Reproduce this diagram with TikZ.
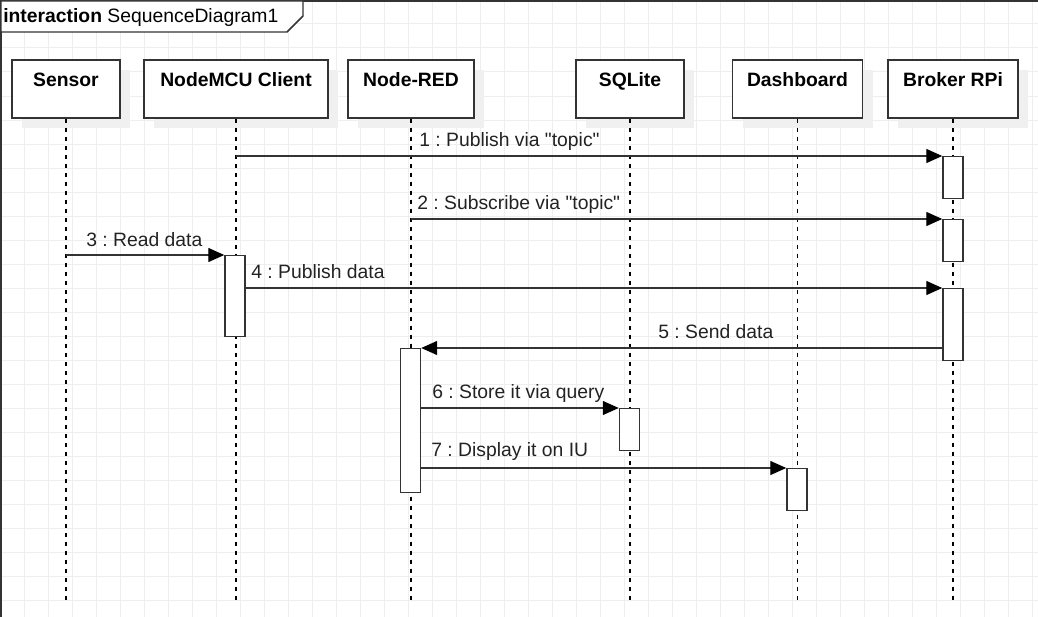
\documentclass[tikz,border=0pt]{standalone}
\usepackage{fontspec}
\setmainfont{Liberation Sans}[Ligatures=TeXOff]
\usetikzlibrary{arrows.meta}
\definecolor{gridc}{HTML}{EEEEEE}
\definecolor{shadowc}{HTML}{F0F0F0}
\definecolor{linec}{HTML}{333333}
\definecolor{textc}{HTML}{222222}
\begin{document}
\frenchspacing
\begin{tikzpicture}[x=0.75pt,y=-0.75pt,
  lifebox/.style={draw=linec, line width=1.1pt, fill=white, minimum height=43.5pt, inner sep=0,
    preaction={fill=shadowc, draw=none, transform canvas={xshift=7.5pt,yshift=-7.5pt}}},
  title/.style={font=\fontsize{14.5}{17}\selectfont\bfseries, anchor=base, inner sep=0, text=black},
  act/.style={draw=linec, line width=1.1pt, fill=white, minimum width=15pt, inner sep=0, anchor=north},
  life/.style={draw=black, line width=0.9pt, dash pattern=on 3pt off 3.75pt},
  msg/.style={draw=linec, line width=1pt, -{Triangle[length=12pt,width=10.5pt,color=black,fill=black]}},
  mlabel/.style={font=\fontsize{14.5}{17}\selectfont, anchor=base west, inner sep=0, text=textc}]

\useasboundingbox (0,0) rectangle (1038,617);

% grid
\foreach \x in {0,24,...,1032} \draw[gridc, line width=0.75pt] (\x,0) -- (\x,617);
\foreach \y in {0,24,...,600} \draw[gridc, line width=0.75pt] (0,\y) -- (1038,\y);

% frame
\draw[linec, line width=1.1pt] (1038,1) -- (1,1) -- (1,617);
\draw[linec, line width=1.1pt, fill=white] (1,1) -- (303,1) -- (303,16) -- (287,32) -- (1,32) -- cycle;
\node[mlabel, text=black] (frameT) at (3,23) {\textbf{interaction} SequenceDiagram1};

% lifeline heads
\node[lifebox, minimum width=81pt]   (sensor)    at (66,89)    {};
\node[lifebox, minimum width=138pt]  (nodemcu)   at (236,89)   {};
\node[lifebox, minimum width=94.5pt] (nodered)   at (411,89)   {};
\node[lifebox, minimum width=81pt]   (sqlite)    at (630,89)   {};
\node[lifebox, minimum width=97.5pt] (dashboard) at (797.5,89) {};
\node[lifebox, minimum width=97.5pt] (broker)    at (953,89)   {};

\node[title] (sensorT)    at (66,86.5)    {Sensor};
\node[title] (nodemcuT)   at (236,86.5)   {NodeMCU Client};
\node[title] (noderedT)   at (411,86.5)   {Node-RED};
\node[title] (sqliteT)    at (630,86.5)   {SQLite};
\node[title] (dashboardT) at (797.5,86.5) {Dashboard};
\node[title] (brokerT)    at (953,86.5)   {Broker RPi};

% lifelines
\coordinate (sensorEnd)    at (66,600);
\coordinate (nodemcuEnd)   at (236,600);
\coordinate (noderedEnd)   at (411,600);
\coordinate (sqliteEnd)    at (630,600);
\coordinate (dashboardEnd) at (797.5,600);
\coordinate (brokerEnd)    at (953,600);
\draw[life] (sensor.south) -- (sensorEnd);
\draw[life] (nodemcu.south) -- (nodemcuEnd);
\draw[life] (nodered.south) -- (noderedEnd);
\draw[life] (sqlite.south) -- (sqliteEnd);
\draw[life] (dashboard.south) -- (dashboardEnd);
\draw[life] (broker.south) -- (brokerEnd);

% activations
\node[act, minimum height=31.5pt]  (b1) at (953,156)   {};
\node[act, minimum height=31.5pt]  (b2) at (953,219)   {};
\node[act, minimum height=54pt]    (b3) at (953,288)   {};
\node[act, minimum height=60.75pt] (n1) at (235,255)   {};
\node[act, minimum height=108pt]   (r1) at (410.5,348) {};
\node[act, minimum height=31.5pt]  (q1) at (629.5,408) {};
\node[act, minimum height=31.5pt]  (d1) at (797,468)   {};

% messages
\draw[msg] (nodemcu.south |- b1.north west) -- (b1.north west);
\draw[msg] (nodered.south |- b2.north west) -- (b2.north west);
\draw[msg] (sensor.south |- n1.north west) -- (n1.north west);
\draw[msg] (n1.east |- b3.north west) -- (b3.north west);
\draw[msg] (b3.west |- r1.north east) -- (r1.north east);
\draw[msg] (r1.east |- q1.north west) -- (q1.north west);
\draw[msg] (r1.east |- d1.north west) -- (d1.north west);

% message labels
\node[mlabel] (l1) at (419,146) {1 : Publish via "topic"};
\node[mlabel] (l2) at (417,209) {2 : Subscribe via "topic"};
\node[mlabel] (l3) at (86,246)  {3 : Read data};
\node[mlabel] (l4) at (251,278) {4 : Publish data};
\node[mlabel] (l5) at (658,338) {5 : Send data};
\node[mlabel] (l6) at (432,398) {6 : Store it via query};
\node[mlabel] (l7) at (431,456) {7 : Display it on IU};
\end{tikzpicture}
\end{document}
